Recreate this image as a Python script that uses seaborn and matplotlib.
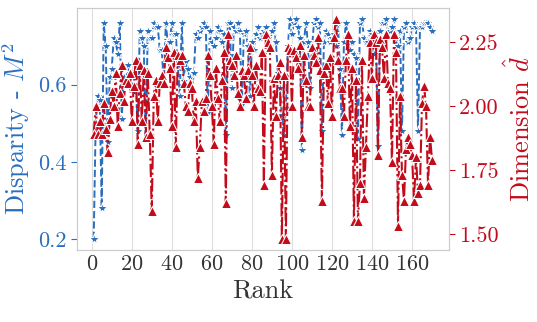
import numpy as np
import pandas as pd
import seaborn as sns
import matplotlib
matplotlib.use("Agg")
from matplotlib import pyplot as plt
from matplotlib.ticker import FormatStrFormatter

# 01 - Data
rank = np.arange(1, 171)

disparity = [
    0.20, 0.50, 0.57, 0.56, 0.28, 0.76, 0.70, 0.45, 0.62, 0.64,
    0.72, 0.71, 0.68, 0.76, 0.51, 0.62, 0.60, 0.65, 0.63, 0.60,
    0.58, 0.62, 0.48, 0.74, 0.72, 0.70, 0.46, 0.74, 0.72, 0.72,
    0.76, 0.75, 0.75, 0.69, 0.69, 0.60, 0.76, 0.71, 0.71, 0.76,
    0.73, 0.73, 0.65, 0.57, 0.76, 0.61, 0.66, 0.64, 0.62, 0.58,
    0.63, 0.73, 0.72, 0.74, 0.75, 0.76, 0.75, 0.53, 0.74, 0.71,
    0.70, 0.72, 0.75, 0.74, 0.71, 0.73, 0.47, 0.76, 0.76, 0.59,
    0.75, 0.74, 0.76, 0.74, 0.55, 0.73, 0.74, 0.70, 0.57, 0.71,
    0.69, 0.73, 0.75, 0.72, 0.73, 0.74, 0.75, 0.72, 0.70, 0.74,
    0.76, 0.71, 0.63, 0.59, 0.52, 0.47, 0.54, 0.70, 0.77, 0.73,
    0.76, 0.77, 0.75, 0.72, 0.43, 0.71, 0.76, 0.71, 0.59, 0.69,
    0.76, 0.77, 0.75, 0.76, 0.48, 0.71, 0.74, 0.73, 0.71, 0.72,
    0.73, 0.70, 0.76, 0.64, 0.47, 0.71, 0.76, 0.72, 0.69, 0.71,
    0.68, 0.67, 0.46, 0.76, 0.77, 0.72, 0.71, 0.71, 0.74, 0.73,
    0.68, 0.73, 0.44, 0.74, 0.76, 0.76, 0.77, 0.74, 0.74, 0.75,
    0.77, 0.72, 0.70, 0.74, 0.48, 0.75, 0.76, 0.71, 0.72, 0.75,
    0.76, 0.75, 0.48, 0.75, 0.75, 0.76, 0.76, 0.76, 0.75, 0.74,
]

dimension = [
    1.89, 2.00, 1.89, 1.94, 1.89, 2.01, 1.91, 1.82, 1.95, 2.06,
    2.00, 2.13, 1.92, 2.05, 2.16, 2.02, 2.10, 2.09, 2.13, 1.94,
    2.08, 2.18, 1.85, 2.16, 1.94, 2.14, 1.88, 2.13, 1.89, 1.59,
    2.04, 2.10, 1.94, 2.09, 2.12, 2.09, 2.23, 2.19, 2.15, 1.92,
    2.21, 1.84, 2.20, 2.18, 2.20, 2.09, 2.00, 1.98, 2.09, 2.07,
    1.94, 2.02, 1.72, 1.84, 2.02, 1.98, 2.03, 2.20, 2.12, 2.00,
    1.85, 2.15, 2.03, 1.94, 2.10, 2.21, 1.62, 2.28, 2.18, 2.16,
    2.12, 2.20, 2.05, 2.00, 2.14, 2.12, 2.03, 2.14, 2.23, 2.12,
    2.00, 2.16, 2.07, 2.06, 2.21, 1.69, 2.28, 2.25, 2.23, 1.73,
    2.11, 1.96, 2.12, 2.17, 1.48, 2.12, 1.48, 2.23, 2.22, 2.00,
    2.22, 2.19, 2.15, 2.24, 1.88, 2.20, 2.10, 2.00, 2.00, 2.23,
    2.20, 2.17, 2.27, 2.14, 1.63, 2.13, 2.16, 2.01, 2.19, 1.96,
    2.27, 2.34, 2.18, 2.07, 2.07, 1.96, 2.18, 2.28, 1.92, 2.15,
    1.55, 2.10, 1.55, 1.70, 2.18, 1.64, 1.84, 2.04, 2.25, 2.11,
    2.28, 2.25, 1.81, 2.26, 2.23, 2.11, 2.28, 2.09, 2.07, 1.78,
    2.28, 2.21, 1.53, 2.04, 1.73, 1.63, 1.83, 1.88, 1.85, 1.81,
    1.63, 1.80, 1.66, 1.69, 2.01, 2.08, 2.00, 1.69, 1.88, 1.79,
]

x_ticks = [0, 20, 40, 60, 80, 100, 120, 140, 160]
left_ticks = [0.2, 0.4, 0.6]
right_ticks = [1.50, 1.75, 2.00, 2.25]

df = pd.DataFrame({"rank": rank, "disparity": disparity, "dimension": dimension})

# 02 - Style
sns.set_style("whitegrid", {"axes.edgecolor": "#cccccc", "grid.color": "#dddddd"})
plt.rcParams["font.family"] = ["cmr10", "DejaVu Serif"]
plt.rcParams["mathtext.fontset"] = "cm"
plt.rcParams["axes.formatter.use_mathtext"] = True
plt.rcParams["axes.unicode_minus"] = False

blue = "#2a6fbf"
red = "#c30b1b"

fig, ax = plt.subplots(figsize=(5.37, 3.22), dpi=100)
fig.subplots_adjust(left=0.143, right=0.836, top=0.975, bottom=0.224)

# 03 - Plot
sns.lineplot(data=df, x="rank", y="disparity", ax=ax, color=blue, marker="*",
             linestyle="--", linewidth=1.4, markersize=8)
ax2 = ax.twinx()
sns.lineplot(data=df, x="rank", y="dimension", ax=ax2, color=red, marker="^",
             linestyle="-.", linewidth=1.5, markersize=7)

ax.set_xticks(x_ticks)
ax.set_yticks(left_ticks)
ax2.set_yticks(right_ticks)
ax2.yaxis.set_major_formatter(FormatStrFormatter("%.2f"))
ax.yaxis.set_major_formatter(FormatStrFormatter("%.1f"))

ax.grid(axis="y", visible=False)
ax2.grid(False)
for s in ax2.spines.values():
    s.set_color("#cccccc")

ax.tick_params(axis="x", labelsize=16, length=0, colors="#333333")
ax.tick_params(axis="y", labelsize=16, left=True, length=4, colors=blue)
ax2.tick_params(axis="y", labelsize=16, right=True, length=4, colors=red)

ax.set_xlabel("Rank", fontsize=19, color="#333333")
ax.set_ylabel("Disparity - $M^2$", fontsize=19, color=blue)
ax2.set_ylabel("Dimension $\\hat{d}$", fontsize=19, color=red)

plt.savefig("out.png", dpi=100)
